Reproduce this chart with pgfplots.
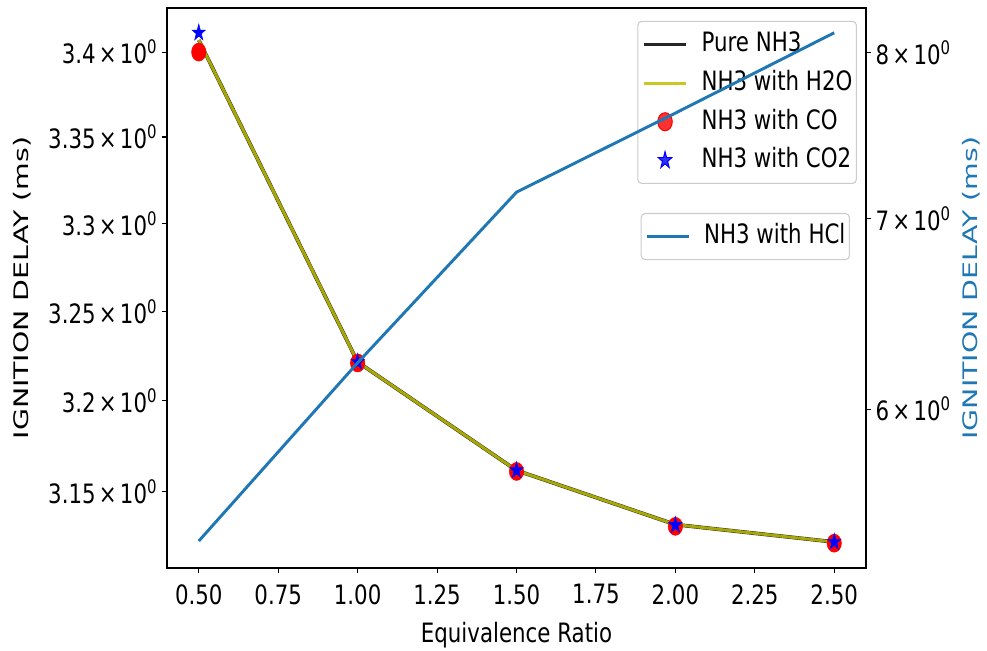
\documentclass[border=0pt]{standalone}
\usepackage{pgfplots}
\pgfplotsset{compat=1.18}
\usepackage{fontspec}
\setmainfont{DejaVu Sans}[FakeStretch=0.8]
\newfontfamily\rotfont{DejaVu Sans}[FakeStretch=1.42]
\newcommand\myfont{\fontsize{20}{24}\selectfont}
\newcommand\myrot{\rotfont\fontsize{15}{18}\selectfont}
\definecolor{tabblue}{HTML}{1F77B4}
\definecolor{ylw}{HTML}{BFBF00}
\newcommand\tl[1]{#1\hspace{0.12em}×\hspace{0.12em}10\textsuperscript{0}}
\pgfdeclareplotmark{fstar}{%
  \pgfpathmoveto{\pgfpointpolar{90}{\pgfplotmarksize}}%
  \pgfpathlineto{\pgfpointpolar{126}{0.382\pgfplotmarksize}}%
  \pgfpathlineto{\pgfpointpolar{162}{\pgfplotmarksize}}%
  \pgfpathlineto{\pgfpointpolar{198}{0.382\pgfplotmarksize}}%
  \pgfpathlineto{\pgfpointpolar{234}{\pgfplotmarksize}}%
  \pgfpathlineto{\pgfpointpolar{270}{0.382\pgfplotmarksize}}%
  \pgfpathlineto{\pgfpointpolar{306}{\pgfplotmarksize}}%
  \pgfpathlineto{\pgfpointpolar{342}{0.382\pgfplotmarksize}}%
  \pgfpathlineto{\pgfpointpolar{18}{\pgfplotmarksize}}%
  \pgfpathlineto{\pgfpointpolar{54}{0.382\pgfplotmarksize}}%
  \pgfpathclose
  \pgfusepathqfillstroke
}
\pgfplotsset{
  mylegend/.style={
    legend cell align=left,
    legend style={font=\myfont, draw=black!20, line width=0.8pt, rounded corners=3pt,
      fill=white, fill opacity=0.8, text opacity=1, draw opacity=1,
      inner xsep=3pt, inner ysep=7.8pt, row sep=10pt, column sep=10pt,
      nodes={text height=15pt, text depth=4pt, inner ysep=0pt, inner xsep=0pt}},
  },
  lineleg/.style={legend image code/.code={\draw[##1] (0pt,0pt) -- (32pt,0pt);}},
  markleg/.style={legend image code/.code={\draw[mark repeat=1,mark phase=1,##1] plot coordinates {(16pt,0pt)};}},
  common/.style={
    scale only axis, width=524.25pt, height=420pt,
    xmin=0.4, xmax=2.6,
    tick align=outside, major tick length=3.75pt,
    tick style={black, line width=0.8pt},
    axis line style={line width=1pt},
    tick label style={font=\myfont},
    /pgf/number format/assume math mode=true,
  }
}
\begin{document}
\begin{tikzpicture}
\begin{axis}[common, name=ax1, mylegend,
  ymode=log, ymin=3.1085, ymax=3.4262,
  xtick={0.5,0.75,1,1.25,1.5,1.75,2,2.25,2.5},
  xticklabels={0.50,0.75,1.00,1.25,1.50,1.75,2.00,2.25,2.50},
  xticklabel style={yshift=-5pt},
  ytick={3.15,3.2,3.25,3.3,3.35,3.4},
  yticklabels={\tl{3.15},\tl{3.2},\tl{3.25},\tl{3.3},\tl{3.35},\tl{3.4}},
  xtick pos=bottom, ytick pos=left,
  minor ytick={},
  xlabel={Equivalence Ratio}, xlabel style={font=\myfont, yshift=-6.5pt},
  ylabel={IGNITION DELAY (ms)},
  ylabel style={font=\myrot, at={(axis description cs:0,0.5)}, anchor=center, yshift=108.75pt},
  legend style={at={(0.987,0.977)}, anchor=north east},
]
\addplot[lineleg, black!85, line width=2.8pt] coordinates {(0.5,3.407) (1.0,3.2215) (1.5,3.1615) (2.0,3.132) (2.5,3.1225)};
\addlegendentry{Pure NH3}
\addplot[lineleg, ylw, line width=2.2pt, opacity=0.85] coordinates {(0.5,3.407) (1.0,3.2215) (1.5,3.1615) (2.0,3.132) (2.5,3.1225)};
\addlegendentry{NH3 with H2O}
\addplot[markleg, only marks, mark=*, mark size=5.4pt, red, mark options={yscale=1.25, fill=red, draw=red}] coordinates {(0.5,3.400) (1.0,3.221) (1.5,3.161) (2.0,3.131) (2.5,3.122)};
\addlegendentry{NH3 with CO}
\addplot[markleg, only marks, mark=fstar, mark size=5.2pt, blue, mark options={yscale=1.25, fill=blue, draw=blue}] coordinates {(0.5,3.4113) (1.0,3.2215) (1.5,3.1615) (2.0,3.1315) (2.5,3.1225)};
\addlegendentry{NH3 with CO2}
\end{axis}
\begin{axis}[common, mylegend,
  axis y line*=right, axis x line=none,
  ymode=log, ymin=5.278, ymax=8.294,
  ytick={6,7,8}, yticklabels={\tl{6},\tl{7},\tl{8}},
  minor ytick={},
  ylabel={IGNITION DELAY (ms)},
  ylabel style={font=\myrot, color=tabblue, at={(axis description cs:1,0.5)}, anchor=center, yshift=-78.75pt},
  legend style={at={(0.977,0.634)}, anchor=north east},
]
\addplot[lineleg, tabblue, line width=2.2pt] coordinates {(0.5,5.394) (1.0,6.229) (1.5,7.149) (2.0,7.62) (2.5,8.13)};
\addlegendentry{NH3 with HCl}
\end{axis}
\pgfresetboundingbox
\path (ax1.south west) ++(-125.25pt,-61.5pt) rectangle ([shift={(90.75pt,6pt)}]ax1.north east);
\end{tikzpicture}
\end{document}
